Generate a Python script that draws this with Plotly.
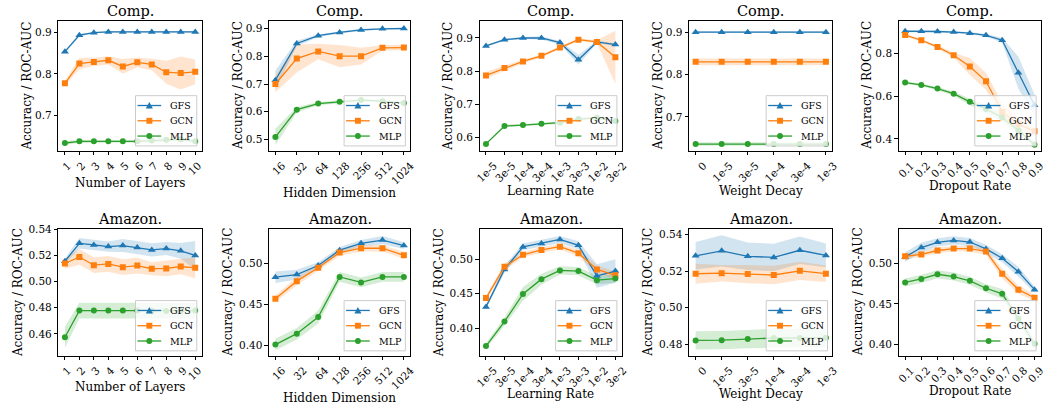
import plotly.graph_objects as go

# ---------------- categories ----------------
layers = ["1", "2", "3", "4", "5", "6", "7", "8", "9", "10"]
hidden = ["16", "32", "64", "128", "256", "512", "1024"]
lrs = ["1e-5", "3e-5", "1e-4", "3e-4", "1e-3", "3e-3", "1e-2", "3e-2"]
wds = ["0", "1e-5", "3e-5", "1e-4", "3e-4", "1e-3"]
drops = ["0.1", "0.2", "0.3", "0.4", "0.5", "0.6", "0.7", "0.8", "0.9"]

# ---------------- Comp. ----------------
comp_layers_gfs = [0.854, 0.894, 0.900, 0.902, 0.902, 0.902, 0.902, 0.902, 0.902, 0.902]
comp_layers_gfs_sd = [0.003, 0.003, 0.002, 0.002, 0.002, 0.002, 0.002, 0.002, 0.002, 0.002]
comp_layers_gcn = [0.777, 0.825, 0.829, 0.833, 0.818, 0.828, 0.823, 0.804, 0.802, 0.805]
comp_layers_gcn_sd = [0.006, 0.014, 0.010, 0.010, 0.018, 0.012, 0.014, 0.028, 0.040, 0.030]
comp_layers_mlp = [0.632, 0.636, 0.636, 0.636, 0.636, 0.636, 0.638, 0.640, 0.641, 0.636]
comp_layers_mlp_sd = [0.004, 0.004, 0.003, 0.003, 0.003, 0.004, 0.005, 0.005, 0.006, 0.004]

comp_hidden_gfs = [0.714, 0.847, 0.875, 0.887, 0.896, 0.900, 0.901]
comp_hidden_gfs_sd = [0.035, 0.010, 0.005, 0.004, 0.004, 0.003, 0.003]
comp_hidden_gcn = [0.700, 0.792, 0.818, 0.801, 0.801, 0.831, 0.832]
comp_hidden_gcn_sd = [0.030, 0.050, 0.028, 0.040, 0.030, 0.010, 0.010]
comp_hidden_mlp = [0.508, 0.607, 0.629, 0.636, 0.642, 0.638, 0.631]
comp_hidden_mlp_sd = [0.030, 0.010, 0.006, 0.005, 0.005, 0.005, 0.005]

comp_lr_gfs = [0.876, 0.895, 0.900, 0.900, 0.886, 0.834, 0.888, 0.880]
comp_lr_gfs_sd = [0.003, 0.003, 0.003, 0.005, 0.005, 0.015, 0.004, 0.004]
comp_lr_gcn = [0.787, 0.809, 0.829, 0.846, 0.871, 0.895, 0.888, 0.842]
comp_lr_gcn_sd = [0.010, 0.008, 0.005, 0.005, 0.005, 0.004, 0.005, 0.080]
comp_lr_mlp = [0.580, 0.634, 0.637, 0.641, 0.644, 0.655, 0.659, 0.649]
comp_lr_mlp_sd = [0.003, 0.004, 0.003, 0.003, 0.004, 0.005, 0.004, 0.004]

comp_wd_gfs = [0.900, 0.900, 0.900, 0.900, 0.900, 0.900]
comp_wd_gfs_sd = [0.002, 0.002, 0.002, 0.002, 0.002, 0.002]
comp_wd_gcn = [0.830, 0.830, 0.830, 0.830, 0.830, 0.830]
comp_wd_gcn_sd = [0.008, 0.008, 0.008, 0.008, 0.008, 0.008]
comp_wd_mlp = [0.636, 0.636, 0.636, 0.636, 0.636, 0.636]
comp_wd_mlp_sd = [0.004, 0.004, 0.004, 0.004, 0.004, 0.004]

comp_drop_gfs = [0.903, 0.903, 0.902, 0.899, 0.894, 0.884, 0.861, 0.709, 0.557]
comp_drop_gfs_sd = [0.004, 0.004, 0.004, 0.004, 0.005, 0.006, 0.012, 0.075, 0.050]
comp_drop_gcn = [0.885, 0.861, 0.830, 0.791, 0.738, 0.669, 0.526, 0.470, 0.435]
comp_drop_gcn_sd = [0.006, 0.006, 0.008, 0.012, 0.040, 0.040, 0.040, 0.030, 0.020]
comp_drop_mlp = [0.663, 0.652, 0.635, 0.611, 0.573, 0.540, 0.500, 0.440, 0.373]
comp_drop_mlp_sd = [0.006, 0.006, 0.008, 0.010, 0.015, 0.020, 0.020, 0.020, 0.010]

# ---------------- Amazon. ----------------
amz_layers_gfs = [0.5155, 0.5292, 0.5280, 0.5267, 0.5275, 0.5260, 0.5242, 0.5252, 0.5235, 0.5200]
amz_layers_gfs_sd = [0.002, 0.004, 0.004, 0.004, 0.005, 0.005, 0.005, 0.005, 0.006, 0.011]
amz_layers_gcn = [0.5138, 0.5188, 0.5125, 0.5135, 0.5110, 0.5122, 0.5098, 0.5100, 0.5115, 0.5105]
amz_layers_gcn_sd = [0.004, 0.006, 0.006, 0.006, 0.006, 0.006, 0.005, 0.006, 0.006, 0.008]
amz_layers_mlp = [0.4575, 0.4778, 0.4778, 0.4778, 0.4778, 0.4778, 0.4776, 0.4776, 0.4776, 0.4778]
amz_layers_mlp_sd = [0.008, 0.006, 0.006, 0.006, 0.006, 0.006, 0.006, 0.006, 0.006, 0.006]

amz_hidden_gfs = [0.4833, 0.4865, 0.4976, 0.5163, 0.5247, 0.5287, 0.5219]
amz_hidden_gfs_sd = [0.007, 0.006, 0.004, 0.004, 0.004, 0.005, 0.004]
amz_hidden_gcn = [0.4570, 0.4785, 0.4948, 0.5135, 0.5187, 0.5187, 0.5100]
amz_hidden_gcn_sd = [0.004, 0.005, 0.004, 0.004, 0.004, 0.004, 0.004]
amz_hidden_mlp = [0.4010, 0.4143, 0.4347, 0.4837, 0.4769, 0.4837, 0.4837]
amz_hidden_mlp_sd = [0.007, 0.007, 0.008, 0.006, 0.006, 0.006, 0.006]

amz_lr_gfs = [0.4307, 0.4849, 0.5175, 0.5226, 0.5283, 0.5198, 0.4755, 0.4825]
amz_lr_gfs_sd = [0.003, 0.005, 0.005, 0.005, 0.005, 0.006, 0.017, 0.017]
amz_lr_gcn = [0.4434, 0.4887, 0.5061, 0.5132, 0.5179, 0.5085, 0.4849, 0.4764]
amz_lr_gcn_sd = [0.003, 0.005, 0.004, 0.004, 0.004, 0.005, 0.006, 0.005]
amz_lr_mlp = [0.3740, 0.4094, 0.4495, 0.4708, 0.4835, 0.4825, 0.4693, 0.4717]
amz_lr_mlp_sd = [0.004, 0.006, 0.010, 0.008, 0.006, 0.006, 0.006, 0.006]

amz_wd_gfs = [0.5284, 0.5311, 0.5281, 0.5275, 0.5314, 0.5286]
amz_wd_gfs_sd = [0.0075, 0.0085, 0.0075, 0.0075, 0.0075, 0.0065]
amz_wd_gcn = [0.5186, 0.5189, 0.5184, 0.5179, 0.5202, 0.5186]
amz_wd_gcn_sd = [0.0055, 0.0045, 0.0050, 0.0050, 0.0050, 0.0045]
amz_wd_mlp = [0.4822, 0.4823, 0.4829, 0.4835, 0.4835, 0.4837]
amz_wd_mlp_sd = [0.005, 0.005, 0.005, 0.005, 0.005, 0.005]

amz_drop_gfs = [0.5081, 0.5198, 0.5262, 0.5286, 0.5266, 0.5181, 0.5065, 0.4899, 0.4677]
amz_drop_gfs_sd = [0.006, 0.006, 0.005, 0.005, 0.005, 0.005, 0.005, 0.006, 0.004]
amz_drop_gcn = [0.5089, 0.5113, 0.5161, 0.5185, 0.5185, 0.5149, 0.4875, 0.4677, 0.4577]
amz_drop_gcn_sd = [0.004, 0.003, 0.004, 0.003, 0.004, 0.004, 0.006, 0.005, 0.004]
amz_drop_mlp = [0.4766, 0.4810, 0.4867, 0.4839, 0.4786, 0.4694, 0.4625, 0.4320, 0.4008]
amz_drop_mlp_sd = [0.005, 0.005, 0.005, 0.005, 0.005, 0.005, 0.006, 0.006, 0.005]

methods = ["GFS", "GCN", "MLP"]
colors = {"GFS": "#1f77b4", "GCN": "#ff7f0e", "MLP": "#2ca02c"}
fills = {"GFS": "rgba(31,119,180,0.2)", "GCN": "rgba(255,127,14,0.2)", "MLP": "rgba(44,160,44,0.2)"}
symbols = {"GFS": "triangle-up", "GCN": "square", "MLP": "circle"}
msizes = {"GFS": 7, "GCN": 6, "MLP": 6}

panels = [
    ("Comp.", "Number of Layers", layers, [comp_layers_gfs, comp_layers_gcn, comp_layers_mlp],
     [comp_layers_gfs_sd, comp_layers_gcn_sd, comp_layers_mlp_sd], [0.613, 0.929], 0.1, ".1f"),
    ("Comp.", "Hidden Dimension", hidden, [comp_hidden_gfs, comp_hidden_gcn, comp_hidden_mlp],
     [comp_hidden_gfs_sd, comp_hidden_gcn_sd, comp_hidden_mlp_sd], [0.458, 0.929], 0.1, ".1f"),
    ("Comp.", "Learning Rate", lrs, [comp_lr_gfs, comp_lr_gcn, comp_lr_mlp],
     [comp_lr_gfs_sd, comp_lr_gcn_sd, comp_lr_mlp_sd], [0.559, 0.952], 0.1, ".1f"),
    ("Comp.", "Weight Decay", wds, [comp_wd_gfs, comp_wd_gcn, comp_wd_mlp],
     [comp_wd_gfs_sd, comp_wd_gcn_sd, comp_wd_mlp_sd], [0.620, 0.927], 0.1, ".1f"),
    ("Comp.", "Dropout Rate", drops, [comp_drop_gfs, comp_drop_gcn, comp_drop_mlp],
     [comp_drop_gfs_sd, comp_drop_gcn_sd, comp_drop_mlp_sd], [0.344, 0.952], 0.2, ".1f"),
    ("Amazon.", "Number of Layers", layers, [amz_layers_gfs, amz_layers_gcn, amz_layers_mlp],
     [amz_layers_gfs_sd, amz_layers_gcn_sd, amz_layers_mlp_sd], [0.4433, 0.5404], 0.02, ".2f"),
    ("Amazon.", "Hidden Dimension", hidden, [amz_hidden_gfs, amz_hidden_gcn, amz_hidden_mlp],
     [amz_hidden_gfs_sd, amz_hidden_gcn_sd, amz_hidden_mlp_sd], [0.3873, 0.5426], 0.05, ".2f"),
    ("Amazon.", "Learning Rate", lrs, [amz_lr_gfs, amz_lr_gcn, amz_lr_mlp],
     [amz_lr_gfs_sd, amz_lr_gcn_sd, amz_lr_mlp_sd], [0.3599, 0.5439], 0.05, ".2f"),
    ("Amazon.", "Weight Decay", wds, [amz_wd_gfs, amz_wd_gcn, amz_wd_mlp],
     [amz_wd_gfs_sd, amz_wd_gcn_sd, amz_wd_mlp_sd], [0.4738, 0.5432], 0.02, ".2f"),
    ("Amazon.", "Dropout Rate", drops, [amz_drop_gfs, amz_drop_gcn, amz_drop_mlp],
     [amz_drop_gfs_sd, amz_drop_gcn_sd, amz_drop_mlp_sd], [0.3859, 0.5431], 0.05, ".2f"),
]

W, H = 1050, 408
FONT = "DejaVu Serif"
# axes boxes in pixels (left, right) per column, (top, bottom) per row
col_px = [(54, 199), (267, 410), (480, 624), (692, 837), (904, 1048)]
row_px = [(15, 147), (226, 355)]
ylab_off = [32, 41]
xlab_off = [[33, 43, 41, 41, 36], [32, 43, 39, 39, 36]]
tick_shift = [3, 7, 8, 8, 6]


def px(x, y):
    return x / W, 1 - y / H


fig = go.Figure()
annotations = []
shapes = []
layout = {}

for k, (title, xlabel, cats, series, sds, yr, dt, fmt) in enumerate(panels, start=1):
    r, c = divmod(k - 1, 5)
    l, rt = col_px[c]
    t, b = row_px[r]
    xd = [l / W, rt / W]
    yd = [1 - b / H, 1 - t / H]
    xa = "x" if k == 1 else f"x{k}"
    ya = "y" if k == 1 else f"y{k}"
    for m, vals, sd in zip(methods, series, sds):
        up = [v + s for v, s in zip(vals, sd)]
        lo = [v - s for v, s in zip(vals, sd)]
        fig.add_trace(go.Scatter(
            x=list(cats) + list(cats)[::-1], y=up + lo[::-1], fill="toself",
            fillcolor=fills[m], line=dict(width=0), mode="lines", hoverinfo="skip",
            showlegend=False, xaxis=xa, yaxis=ya))
    for m, vals in zip(methods, series):
        fig.add_trace(go.Scatter(
            x=cats, y=vals, mode="lines+markers", name=m,
            line=dict(color=colors[m], width=1.3),
            marker=dict(symbol=symbols[m], size=msizes[m], color=colors[m]),
            xaxis=xa, yaxis=ya, showlegend=False))
    n = len(cats)
    pad = 0.05 * (n - 1)
    layout["xaxis" if k == 1 else f"xaxis{k}"] = dict(
        domain=xd, anchor=ya, type="category", range=[-pad, n - 1 + pad],
        showline=True, mirror=True, linecolor="black", linewidth=1,
        ticks="outside", ticklen=3.5, tickwidth=1, tickcolor="black",
        tickangle=-45, ticklabelshift=tick_shift[c],
        tickfont=dict(family=FONT, size=10.5, color="black"),
        showgrid=False, zeroline=False, fixedrange=True)
    layout["yaxis" if k == 1 else f"yaxis{k}"] = dict(
        domain=yd, anchor=xa, range=yr, dtick=dt, tick0=0, tickformat=fmt,
        showline=True, mirror=True, linecolor="black", linewidth=1,
        ticks="outside", ticklen=3.5, tickwidth=1, tickcolor="black",
        tickfont=dict(family=FONT, size=10.5, color="black"),
        showgrid=False, zeroline=False, fixedrange=True)

    # ---- legend (drawn as layout decoration, lower right of the axes) ----
    lw_, lh_ = 62, 51
    bx1, by1 = rt - 5, b - 5
    bx0, by0 = bx1 - lw_, by1 - lh_
    x0p, y0p = px(bx0, by0)
    x1p, y1p = px(bx1, by1)
    shapes.append(dict(type="rect", xref="paper", yref="paper", x0=x0p, x1=x1p,
                       y0=y1p, y1=y0p, fillcolor="rgba(255,255,255,0.8)",
                       line=dict(color="#cccccc", width=1), layer="above"))
    for i, m in enumerate(methods):
        cy = by0 + 10 + 15.5 * i
        cx = bx0 + 14
        a0, ay = px(bx0 + 2, cy)
        a1, _ = px(bx0 + 26, cy)
        shapes.append(dict(type="line", xref="paper", yref="paper", x0=a0, x1=a1,
                           y0=ay, y1=ay, line=dict(color=colors[m], width=1.3),
                           layer="above"))
        if m == "GFS":
            p1, p2, p3 = px(cx - 3.6, cy + 3), px(cx + 3.6, cy + 3), px(cx, cy - 3.6)
            shapes.append(dict(type="path", xref="paper", yref="paper",
                               path=f"M {p1[0]},{p1[1]} L {p2[0]},{p2[1]} L {p3[0]},{p3[1]} Z",
                               fillcolor=colors[m], line=dict(width=0), layer="above"))
        elif m == "GCN":
            q0, q1 = px(cx - 3, cy - 3), px(cx + 3, cy + 3)
            shapes.append(dict(type="rect", xref="paper", yref="paper", x0=q0[0], x1=q1[0],
                               y0=q1[1], y1=q0[1], fillcolor=colors[m],
                               line=dict(width=0), layer="above"))
        else:
            q0, q1 = px(cx - 3, cy - 3), px(cx + 3, cy + 3)
            shapes.append(dict(type="circle", xref="paper", yref="paper", x0=q0[0], x1=q1[0],
                               y0=q1[1], y1=q0[1], fillcolor=colors[m],
                               line=dict(width=0), layer="above"))
        tx, ty = px(bx0 + 33, cy)
        annotations.append(dict(text=m, x=tx, y=ty, xref="paper", yref="paper",
                                xanchor="left", yanchor="middle", showarrow=False,
                                font=dict(family=FONT, size=9.5, color="black")))

    # subplot title
    annotations.append(dict(
        text=title, x=(l + rt) / 2 / W, y=1 - t / H, xref="paper", yref="paper",
        xanchor="center", yanchor="bottom", yshift=0, showarrow=False,
        font=dict(family=FONT, size=14.5, color="black")))
    # x-axis title
    annotations.append(dict(
        text=xlabel, x=(l + rt) / 2 / W, y=1 - (b + xlab_off[r][c]) / H,
        xref="paper", yref="paper",
        xanchor="center", yanchor="middle", showarrow=False,
        font=dict(family=FONT, size=12, color="black")))
    # y-axis title
    annotations.append(dict(
        text="Accuracy / ROC-AUC", x=(l - ylab_off[r]) / W, y=1 - (t + b) / 2 / H,
        xref="paper", yref="paper", xanchor="center", yanchor="middle",
        textangle=-90, showarrow=False,
        font=dict(family=FONT, size=12, color="black")))

fig.update_layout(
    width=W, height=H, margin=dict(l=0, r=0, t=0, b=0),
    paper_bgcolor="white", plot_bgcolor="white", showlegend=False,
    annotations=annotations, shapes=shapes, **layout)

fig.write_html("out.html", config={"displayModeBar": False},
               post_script="document.body.style.margin='0px';")
